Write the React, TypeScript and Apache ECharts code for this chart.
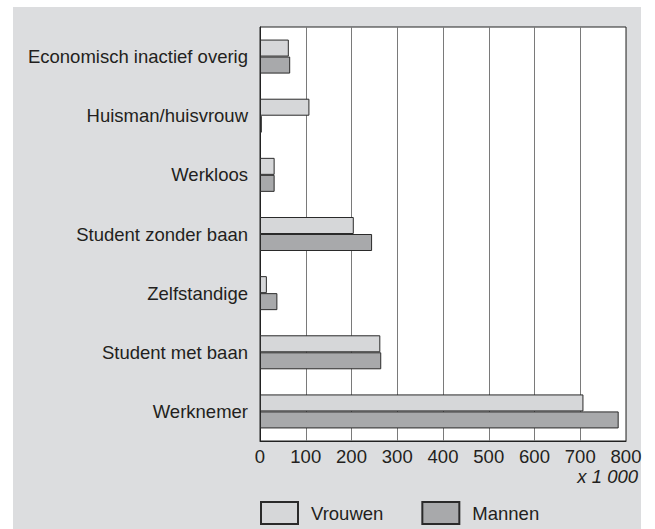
import React, { useEffect, useRef } from "react";
import * as echarts from "echarts";

const categories = [
  "Werknemer",
  "Student met baan",
  "Zelfstandige",
  "Student zonder baan",
  "Werkloos",
  "Huisman/huisvrouw",
  "Economisch inactief overig",
];
const vrouwen = [707, 263, 15, 205, 32, 108, 63];
const mannen = [784, 265, 38, 245, 32, 4, 66];
const xTicks = [0, 100, 200, 300, 400, 500, 600, 700, 800];
const unitLabel = "x 1 000";

const FONT = "'Liberation Sans', Arial, Helvetica, sans-serif";
const TEXT = "#231f20";
const FS = 18.5;

export default function App() {
  const ref = useRef<HTMLDivElement>(null);
  useEffect(() => {
    document.body.style.margin = "0";
    const chart = echarts.init(ref.current!, undefined, { renderer: "svg" });
    chart.setOption({
      animation: false,
      textStyle: { fontFamily: FONT },
      graphic: [
        {
          type: "rect",
          z: -10,
          silent: true,
          shape: { x: 13, y: 7, width: 628, height: 522 },
          style: { fill: "#dcdddf" },
        },
        {
          type: "text",
          x: 638,
          y: 476.5,
          style: {
            text: unitLabel,
            fill: TEXT,
            font: `italic ${FS}px ${FONT}`,
            align: "right",
            verticalAlign: "middle",
          },
        },
      ],
      grid: {
        left: 260,
        right: 29,
        top: 27,
        bottom: 88,
        show: true,
        backgroundColor: "#ffffff",
        borderColor: "#222",
        borderWidth: 1,
        containLabel: false,
      },
      legend: {
        data: ["Vrouwen", "Mannen"],
        left: 260,
        top: 501,
        padding: 0,
        itemWidth: 37,
        itemHeight: 22,
        itemGap: 38,
        icon: "rect",
        textStyle: { fontSize: FS, color: TEXT, fontFamily: FONT, padding: [0, 0, 0, 8] },
      },
      xAxis: {
        type: "value",
        min: 0,
        max: 800,
        interval: 100,
        axisLine: { show: true, lineStyle: { color: "#222", width: 1 } },
        axisTick: { show: false },
        splitLine: { show: true, lineStyle: { color: "#7a7a7a", width: 1 } },
        axisLabel: {
          fontSize: FS,
          color: TEXT,
          margin: 6,
          formatter: (v: number) => (xTicks.includes(v) ? String(v) : ""),
        },
      },
      yAxis: {
        type: "category",
        data: categories,
        axisLine: { show: true, lineStyle: { color: "#222", width: 1 } },
        axisTick: { show: false },
        splitLine: { show: false },
        axisLabel: { fontSize: FS, color: TEXT, margin: 12 },
      },
      series: [
        {
          name: "Vrouwen",
          type: "bar",
          data: vrouwen,
          barWidth: 17,
          barGap: "0%",
          itemStyle: { color: "#d6d7d9", borderColor: "#2a2a2a", borderWidth: 1 },
        },
        {
          name: "Mannen",
          type: "bar",
          data: mannen,
          barWidth: 17,
          barGap: "0%",
          itemStyle: { color: "#a8a9ab", borderColor: "#2a2a2a", borderWidth: 1 },
        },
      ],
    });
    return () => chart.dispose();
  }, []);
  return <div ref={ref} style={{ width: 655, height: 529 }} />;
}
